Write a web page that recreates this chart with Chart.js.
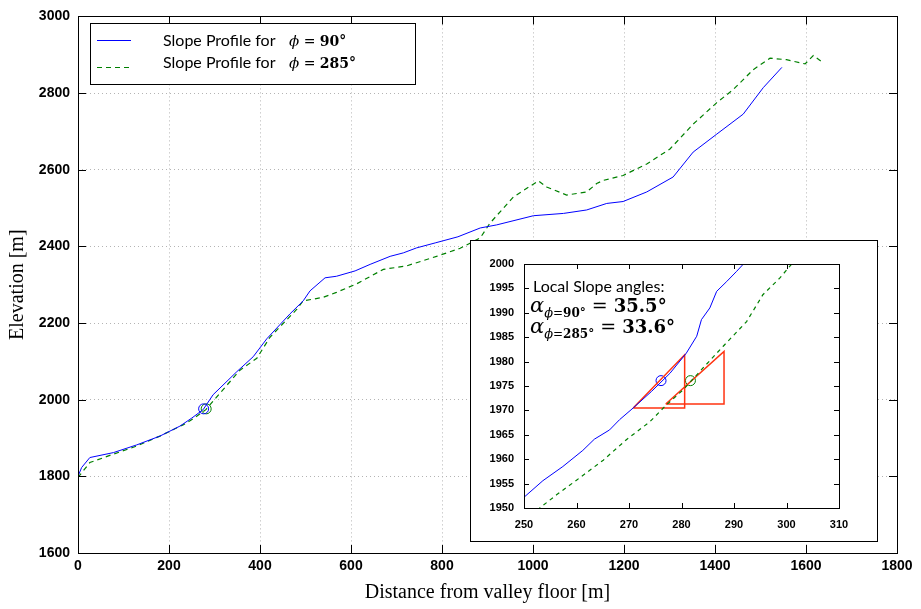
<!DOCTYPE html>
<html>
<head>
<meta charset="utf-8">
<script src="https://cdn.jsdelivr.net/npm/chart.js@4.4.1/dist/chart.umd.min.js"></script>
<style>
  html, body { margin: 0; padding: 0; background: #fff; }
  #wrap { position: relative; width: 921px; height: 609px; }
  #main { position: absolute; left: 0; top: 0; }
  #inset { position: absolute; left: 470px; top: 240px; }
</style>
</head>
<body>
<div id="wrap">
  <canvas id="main" width="921" height="609"></canvas>
  <canvas id="inset" width="408" height="302"></canvas>
</div>
<script>
// ---------------- data ----------------
const xTicksMain = [0, 200, 400, 600, 800, 1000, 1200, 1400, 1600, 1800];
const yTicksMain = [1600, 1800, 2000, 2200, 2400, 2600, 2800, 3000];

const dist90 = [0, 8, 26, 78, 129, 180, 224, 250, 275, 297, 349, 385, 415, 466, 495, 510, 543, 568, 609, 642, 686, 715, 744, 785, 835, 884, 920, 1001, 1067, 1118, 1162, 1198, 1250, 1308, 1352, 1404, 1462, 1506, 1547];
const elev90 = [1800, 1823, 1849, 1862, 1882, 1905, 1931, 1952, 1974, 2013, 2073, 2112, 2159, 2224, 2258, 2284, 2318, 2322, 2336, 2353, 2374, 2383, 2396, 2409, 2425, 2448, 2456, 2480, 2486, 2495, 2512, 2517, 2542, 2581, 2646, 2693, 2745, 2814, 2867];

const dist285 = [0, 26, 78, 129, 180, 232, 253, 281, 312, 356, 393, 422, 481, 495, 539, 568, 612, 671, 722, 788, 840, 884, 905, 957, 1012, 1030, 1074, 1118, 1140, 1154, 1198, 1250, 1301, 1352, 1404, 1440, 1484, 1521, 1557, 1598, 1616, 1634];
const elev285 = [1797, 1836, 1858, 1879, 1905, 1935, 1950, 1974, 2017, 2077, 2108, 2163, 2236, 2258, 2267, 2280, 2302, 2340, 2349, 2374, 2395, 2422, 2460, 2529, 2571, 2555, 2534, 2542, 2564, 2572, 2585, 2615, 2654, 2719, 2775, 2809, 2861, 2891, 2887, 2876, 2898, 2882];

// local points where slope angle was evaluated
const markX90 = [276.1], markY90 = [1976.1];
const markX285 = [281.7], markY285 = [1976.1];

// inset (zoom) data
const insetDist90 = [250, 253.6, 257.4, 261.2, 263.4, 266.3, 268.2, 270.8, 274.3, 277.8, 280.9, 282.9, 283.8, 285.4, 286.7, 288.6, 290.5, 291.8, 293];
const insetElev90 = [1952.2, 1955.6, 1958.5, 1961.8, 1964.1, 1966.0, 1968.1, 1970.5, 1973.9, 1977.6, 1981.7, 1985.2, 1988.6, 1991.0, 1994.4, 1996.4, 1998.5, 2000, 2001.2];
const insetDist285 = [252.5, 253.0, 256.2, 260.0, 265.1, 269.5, 274.0, 277.1, 280.3, 284.1, 287.9, 292.4, 295.5, 298.7, 301.0, 301.8];
const insetElev285 = [1949.6, 1950, 1952.7, 1955.7, 1959.8, 1964.0, 1967.7, 1971.1, 1974.2, 1978.7, 1983.1, 1988.2, 1993.7, 1997.1, 2000, 2000.8];
const tri90X = [270.8, 280.6, 280.6, 270.8];
const tri90Y = [1970.5, 1981.4, 1970.5, 1970.5];
const tri285X = [277.0, 288.1, 288.1, 277.0];
const tri285Y = [1971.3, 1982.1, 1971.3, 1971.3];
const xTicksInset = [250, 260, 270, 280, 290, 300, 310];
const yTicksInset = [1950, 1955, 1960, 1965, 1970, 1975, 1980, 1985, 1990, 1995, 2000];

const legendLabels = ['Slope Profile for', 'Slope Profile for'];
const legendAngles = ['90°', '285°'];
const slopeAngles = ['35.5°', '33.6°'];

// ---------------- helpers ----------------
const pts = (xs, ys) => xs.map((x, i) => ({ x: x, y: ys[i] }));
const BLUE = '#0000ff', GREEN = '#008000', RED = '#ff3311';
const plain = v => String(v);
const TICKFAMILY = '"Liberation Sans", Arial, Helvetica, sans-serif';

function drawRuns(ctx, x, y, runs) {
  ctx.textAlign = 'left';
  ctx.textBaseline = 'alphabetic';
  let cx = x;
  for (const r of runs) {
    ctx.font = r.font;
    ctx.fillStyle = '#000';
    cx += r.dx || 0;
    ctx.fillText(r.text, cx, y + (r.dy || 0));
    cx += ctx.measureText(r.text).width;
  }
}

function boxTicks(len, lw) {
  return {
    id: 'boxTicks',
    afterDraw(chart) {
      const { ctx, chartArea: a, scales } = chart;
      ctx.save();
      ctx.strokeStyle = '#000';
      ctx.lineWidth = lw;
      ctx.beginPath();
      for (const t of scales.x.ticks) {
        const px = Math.round(scales.x.getPixelForValue(t.value)) + 0.5;
        ctx.moveTo(px, a.bottom); ctx.lineTo(px, a.bottom - len);
        ctx.moveTo(px, a.top); ctx.lineTo(px, a.top + len);
      }
      for (const t of scales.y.ticks) {
        const py = Math.round(scales.y.getPixelForValue(t.value)) + 0.5;
        ctx.moveTo(a.left, py); ctx.lineTo(a.left + len, py);
        ctx.moveTo(a.right, py); ctx.lineTo(a.right - len, py);
      }
      ctx.stroke();
      ctx.strokeRect(Math.round(a.left) + 0.5, Math.round(a.top) + 0.5,
                     Math.round(a.right - a.left), Math.round(a.bottom - a.top));
      ctx.restore();
    }
  };
}

const legendPlugin = {
  id: 'mathLegend',
  afterDraw(chart) {
    const ctx = chart.ctx;
    ctx.save();
    ctx.fillStyle = '#fff';
    ctx.fillRect(90, 23, 325, 61);
    ctx.strokeStyle = '#000';
    ctx.lineWidth = 1;
    ctx.strokeRect(90.5, 23.5, 325, 61);
    const rows = [{ y: 40, tb: 46, color: BLUE, dash: [] }, { y: 67, tb: 68, color: GREEN, dash: [5, 4] }];
    rows.forEach((r, i) => {
      ctx.beginPath();
      ctx.strokeStyle = r.color;
      ctx.setLineDash(r.dash);
      ctx.moveTo(97, r.y + 0.5); ctx.lineTo(131, r.y + 0.5);
      ctx.stroke();
      ctx.setLineDash([]);
      drawRuns(ctx, 163, r.tb, [{ text: legendLabels[i], font: '16px Lato' }]);
      drawRuns(ctx, 289, r.tb, [
        { text: 'ϕ', font: 'italic 15px "DejaVu Serif"' },
        { text: ' = ', font: '14px "DejaVu Serif"' },
        { text: legendAngles[i], font: 'bold 14px "DejaVu Serif"' }
      ]);
    });
    ctx.restore();
  }
};

// ---------------- main chart ----------------
new Chart(document.getElementById('main'), {
  type: 'scatter',
  data: {
    datasets: [
      { label: 'Slope Profile for ϕ = 90°', data: pts(dist90, elev90), showLine: true, borderColor: BLUE, borderWidth: 1, pointRadius: 0, tension: 0 },
      { label: 'Slope Profile for ϕ = 285°', data: pts(dist285, elev285), showLine: true, borderColor: GREEN, borderWidth: 1.2, borderDash: [5, 4], pointRadius: 0, tension: 0 },
      { label: 'mark90', data: pts(markX90, markY90), showLine: false, pointRadius: 5, pointBorderColor: BLUE, pointBackgroundColor: 'rgba(0,0,0,0)', pointBorderWidth: 1 },
      { label: 'mark285', data: pts(markX285, markY285), showLine: false, pointRadius: 5, pointBorderColor: GREEN, pointBackgroundColor: 'rgba(0,0,0,0)', pointBorderWidth: 1 }
    ]
  },
  options: {
    responsive: false,
    animation: false,
    devicePixelRatio: 1,
    layout: { padding: { top: 11, right: 24, left: 0, bottom: 0 } },
    plugins: { legend: { display: false }, tooltip: { enabled: false } },
    scales: {
      x: {
        type: 'linear', min: 0, max: 1800,
        afterBuildTicks(s) { s.ticks = xTicksMain.map(v => ({ value: v })); },
        afterFit(s) { s.height = 56; },
        ticks: { color: '#000', font: { family: TICKFAMILY, weight: 'bold', size: 14 }, padding: 5, maxRotation: 0, callback: plain },
        grid: { color: '#b4b4b4', drawTicks: false, lineWidth: 1 },
        border: { display: false, dash: [1, 3] },
        title: { display: true, text: 'Distance from valley floor [m]', color: '#000', font: { family: '"Liberation Serif", serif', size: 20 }, padding: { top: 4, bottom: 4 } }
      },
      y: {
        type: 'linear', min: 1600, max: 3000,
        afterBuildTicks(s) { s.ticks = yTicksMain.map(v => ({ value: v })); },
        afterFit(s) { s.width = 78; },
        ticks: { color: '#000', font: { family: TICKFAMILY, weight: 'bold', size: 14 }, padding: 8, callback: plain },
        grid: { color: '#b4b4b4', drawTicks: false, lineWidth: 1 },
        border: { display: false, dash: [1, 3] },
        title: { display: true, text: 'Elevation [m]', color: '#000', font: { family: '"Liberation Serif", serif', size: 20 }, padding: { top: 6, bottom: 4 } }
      }
    }
  },
  plugins: [boxTicks(8, 1), legendPlugin]
});

// ---------------- inset chart ----------------
const insetFrame = {
  id: 'insetFrame',
  beforeDraw(chart) {
    const ctx = chart.ctx;
    ctx.save();
    ctx.fillStyle = '#fff';
    ctx.fillRect(0, 0, chart.width, chart.height);
    ctx.restore();
  },
  afterDraw(chart) {
    const ctx = chart.ctx;
    ctx.save();
    ctx.strokeStyle = '#000';
    ctx.lineWidth = 1;
    ctx.strokeRect(0.5, 0.5, chart.width - 1, chart.height - 1);
    drawRuns(ctx, 63, 52, [{ text: 'Local Slope angles:', font: '16px Lato' }]);
    const subs = ['90°', '285°'];
    [72, 93].forEach((by, i) => {
      drawRuns(ctx, 60, by, [
        { text: 'α', font: 'italic 21px "DejaVu Serif"' },
        { text: 'ϕ', font: 'italic 13px "DejaVu Serif"', dy: 5 },
        { text: '=', font: '12px "DejaVu Serif"', dy: 5 },
        { text: subs[i], font: 'bold 12px "DejaVu Serif"', dy: 5 },
        { text: ' = ', font: '19px "DejaVu Serif"' },
        { text: slopeAngles[i], font: 'bold 18px "DejaVu Serif"' }
      ]);
    });
    ctx.restore();
  }
};

new Chart(document.getElementById('inset'), {
  type: 'scatter',
  data: {
    datasets: [
      { label: 'ϕ = 90°', data: pts(insetDist90, insetElev90), showLine: true, borderColor: BLUE, borderWidth: 1, pointRadius: 0 },
      { label: 'ϕ = 285°', data: pts(insetDist285, insetElev285), showLine: true, borderColor: GREEN, borderWidth: 1.2, borderDash: [4, 4], pointRadius: 0 },
      { label: 'tri90', data: pts(tri90X, tri90Y), showLine: true, borderColor: RED, borderWidth: 1.5, pointRadius: 0 },
      { label: 'tri285', data: pts(tri285X, tri285Y), showLine: true, borderColor: RED, borderWidth: 1.5, pointRadius: 0 },
      { label: 'mark90', data: pts(markX90, markY90), showLine: false, pointRadius: 5, pointBorderColor: BLUE, pointBackgroundColor: 'rgba(0,0,0,0)', pointBorderWidth: 1 },
      { label: 'mark285', data: pts(markX285, markY285), showLine: false, pointRadius: 5, pointBorderColor: GREEN, pointBackgroundColor: 'rgba(0,0,0,0)', pointBorderWidth: 1 }
    ]
  },
  options: {
    responsive: false,
    animation: false,
    devicePixelRatio: 1,
    layout: { padding: { top: 24, right: 39, left: 0, bottom: 0 } },
    plugins: { legend: { display: false }, tooltip: { enabled: false } },
    scales: {
      x: {
        type: 'linear', min: 250, max: 310,
        afterBuildTicks(s) { s.ticks = xTicksInset.map(v => ({ value: v })); },
        afterFit(s) { s.height = 34; },
        ticks: { color: '#000', font: { family: TICKFAMILY, weight: 'bold', size: 11 }, padding: 2, maxRotation: 0, callback: plain },
        grid: { display: false },
        border: { display: false }
      },
      y: {
        type: 'linear', min: 1950, max: 2000,
        afterBuildTicks(s) { s.ticks = yTicksInset.map(v => ({ value: v })); },
        afterFit(s) { s.width = 54; },
        ticks: { color: '#000', font: { family: TICKFAMILY, weight: 'bold', size: 11 }, padding: 2, callback: plain },
        grid: { display: false },
        border: { display: false }
      }
    }
  },
  plugins: [insetFrame, boxTicks(5, 1)]
});
</script>
</body>
</html>
